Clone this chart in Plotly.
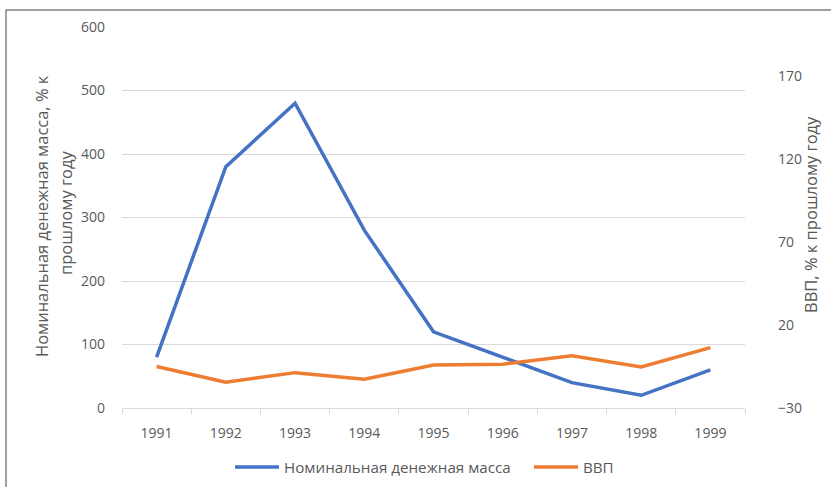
import plotly.graph_objects as go

years = ["1991", "1992", "1993", "1994", "1995", "1996", "1997", "1998", "1999"]
money_supply = [80, 380, 480, 280, 120, 80, 40, 20, 60]
gdp = [-5.0, -14.5, -8.7, -12.7, -4.1, -3.6, 1.4, -5.3, 6.4]
left_ticks = [0, 100, 200, 300, 400, 500, 600]
right_ticks = [-30, 20, 70, 120, 170]
left_title = ["Номинальная денежная масса, % к", "прошлому году"]
right_title = "ВВП, % к прошлому году"

FONT = "Open Sans"
GREY = "#595959"

fig = go.Figure()
fig.add_trace(go.Scatter(x=years, y=money_supply, mode="lines",
                         name="Номинальная денежная масса", legend="legend",
                         line=dict(color="#4472C4", width=3.5)))
fig.add_trace(go.Scatter(x=years, y=gdp, mode="lines", name="ВВП", yaxis="y2",
                         legend="legend2",
                         line=dict(color="#ED7D31", width=3.5)))

L, R, T, B = 122, 86, 27, 79
W, H = 831, 487
pw, ph = W - L - R, H - T - B
bx = (6 - L) / pw
by = 1 + (T - 10) / ph


def px(x):
    return (x - L) / pw


def py(y):
    return (H - B - y) / ph


leg_common = dict(orientation="h", yanchor="middle", y=py(467), xanchor="left",
                  itemwidth=44,
                  font=dict(size=15.2, color=GREY), bgcolor="rgba(0,0,0,0)")

fig.update_layout(
    width=W, height=H,
    margin=dict(l=L, r=R, t=T, b=B, autoexpand=False),
    paper_bgcolor="white", plot_bgcolor="white",
    font=dict(family=FONT, color=GREY, size=14),
    showlegend=True,
    legend=dict(x=px(230), **leg_common),
    legend2=dict(x=px(529), **leg_common),
    xaxis=dict(type="category", range=[-0.5, 8.5], automargin=False, showgrid=False,
               showline=True, linecolor="#d9d9d9",
               linewidth=1, ticks="outside", tickson="boundaries", ticklen=5,
               tickcolor="#d9d9d9", ticklabelstandoff=12, zeroline=False),
    yaxis=dict(range=[0, 600], tickvals=left_ticks, automargin=False, showgrid=True,
               gridcolor="#d9d9d9", gridwidth=1, zeroline=False, showline=False,
               ticklabelstandoff=16),
    yaxis2=dict(range=[-30, 199.5], tickvals=right_ticks, overlaying="y", side="right",
                automargin=False, showgrid=False, zeroline=False, showline=False,
                ticklabelstandoff=32),
    annotations=[
        dict(text=left_title[0], textangle=-90, xref="paper", yref="paper",
             x=px(41), y=py(216), xanchor="center", yanchor="middle", showarrow=False,
             font=dict(size=16.5, color=GREY)),
        dict(text=left_title[1], textangle=-90, xref="paper", yref="paper",
             x=px(65), y=py(213), xanchor="center", yanchor="middle", showarrow=False,
             font=dict(size=16.5, color=GREY)),
        dict(text=right_title, textangle=-90, xref="paper", yref="paper",
             x=px(810), y=py(215), xanchor="center", yanchor="middle", showarrow=False,
             font=dict(size=16.5, color=GREY)),
    ],
    shapes=[
        dict(type="line", xref="paper", yref="paper", x0=bx, x1=(W - L) / pw + 0.05,
             y0=by, y1=by, line=dict(color="#404040", width=1)),
        dict(type="line", xref="paper", yref="paper", x0=bx, x1=bx,
             y0=by, y1=-B / ph - 0.05, line=dict(color="#404040", width=1)),
    ],
)

fig.write_html("out.html", config={"displayModeBar": False},
               post_script="document.body.style.margin='0px';")
